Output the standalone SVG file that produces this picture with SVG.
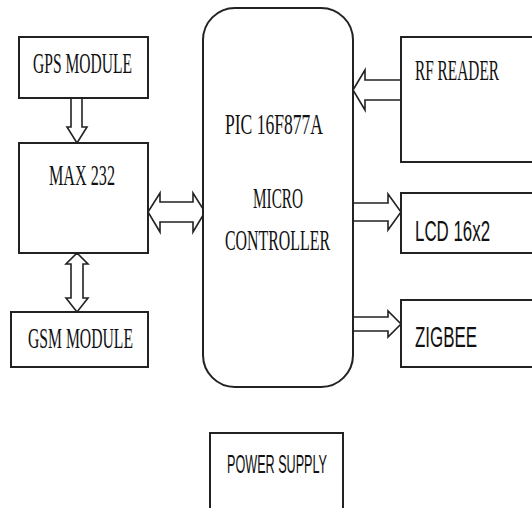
<svg xmlns="http://www.w3.org/2000/svg" width="532" height="508" viewBox="0 0 532 508">
<style>
.box{fill:#fff;stroke:#222;stroke-width:2}
.arr{fill:#fff;stroke:#222;stroke-width:1.6;stroke-linejoin:miter}
.serif{font-family:"Liberation Serif","Times New Roman",serif;font-size:29px;fill:#111}
.sans{font-family:"Liberation Sans",Arial,sans-serif;fill:#111}
</style>
<rect width="532" height="508" fill="#fff"/>
<g id="connectors">
<polygon class="arr" points="71,98 82,98 82,127 87,127 77,143 67,127 71,127"/>
<polygon class="arr" points="77,253 88,264 83,264 83,298 88,298 77,312 66,298 71,298 71,264 66,264"/>
<polygon class="arr" points="148,212 160,193 160,202 193,202 193,193 205,212 193,232 193,222 160,222 160,232"/>
<polygon class="arr" points="353,90 365,70 365,80 401,80 401,100 365,100 365,110"/>
<polygon class="arr" points="353,203 388,203 388,194 401,212 388,230 388,221 353,221"/>
<polygon class="arr" points="353,317 388,317 388,311 401,324 388,337 388,331 353,331"/>
</g>
<g id="gps"><rect class="box" x="19" y="37" width="129" height="61"/>
<text class="serif" x="33" y="73" textLength="99" lengthAdjust="spacingAndGlyphs">GPS MODULE</text></g>
<g id="max232"><rect class="box" x="19" y="143" width="129" height="110"/>
<text class="serif" x="49" y="185" textLength="66" lengthAdjust="spacingAndGlyphs">MAX 232</text></g>
<g id="gsm"><rect class="box" x="11" y="312" width="137" height="55"/>
<text class="serif" x="28" y="348" textLength="105" lengthAdjust="spacingAndGlyphs">GSM MODULE</text></g>
<g id="pic"><rect class="box" x="203" y="8" width="150" height="379" rx="32" ry="32"/>
<text class="serif" x="225" y="134" textLength="98" lengthAdjust="spacingAndGlyphs">PIC 16F877A</text>
<text class="serif" x="253" y="208" textLength="50" lengthAdjust="spacingAndGlyphs">MICRO</text>
<text class="serif" x="225" y="250" textLength="105" lengthAdjust="spacingAndGlyphs">CONTROLLER</text></g>
<g id="rf"><rect class="box" x="401" y="37" width="140" height="125"/>
<text class="serif" transform="translate(415,80) scale(0.529,1)" x="0" y="0" textLength="158.8" lengthAdjust="spacingAndGlyphs">RF READER</text></g>
<g id="lcd"><rect class="box" x="401" y="193" width="140" height="60"/>
<text class="sans" transform="translate(415,241) scale(0.562,1)" x="0" y="0" font-size="30" textLength="133.5" lengthAdjust="spacingAndGlyphs">LCD 16x2</text></g>
<g id="zigbee"><rect class="box" x="401" y="300" width="140" height="67"/>
<text class="sans" transform="translate(415,347) scale(0.564,1)" x="0" y="0" font-size="30" textLength="110" lengthAdjust="spacingAndGlyphs">ZIGBEE</text></g>
<g id="power"><rect class="box" x="210" y="433" width="133" height="80"/>
<text class="sans" x="227" y="473" font-size="25" textLength="100" lengthAdjust="spacingAndGlyphs">POWER SUPPLY</text></g>
</svg>
